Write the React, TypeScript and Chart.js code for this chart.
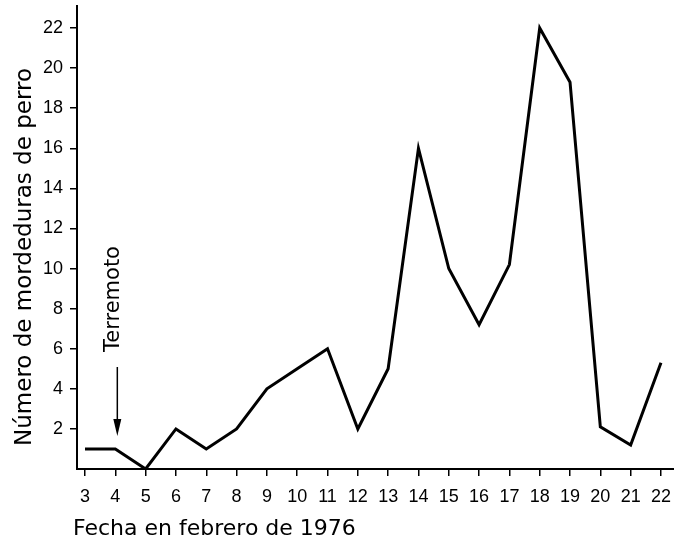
import React, { useEffect, useRef } from "react";
import { Chart, registerables } from "chart.js";

Chart.register(...registerables);

const days = [3, 4, 5, 6, 7, 8, 9, 10, 11, 12, 13, 14, 15, 16, 17, 18, 19, 20, 21, 22];
const bites = [1, 1, 0, 2, 1, 2, 4, 5, 6, 2, 5, 16, 10, 7.2, 10.2, 22, 19.3, 2.1, 1.2, 5.3];
const yTickValues = [2, 4, 6, 8, 10, 12, 14, 16, 18, 20, 22];
const yTitle = "Número de mordeduras de perro";
const xTitle = "Fecha en febrero de 1976";
const eventLabel = "Terremoto";
const eventDay = 4;
const eventValue = 1;

const TITLE_FONT = '"DejaVu Sans", sans-serif';
const TICK_FONT = '"Liberation Sans", Arial, sans-serif';

const annotations = {
  id: "annotations",
  afterDraw(chart: any) {
    const ctx = chart.ctx;
    const xs = chart.scales.x;
    const ys = chart.scales.y;
    ctx.save();
    ctx.fillStyle = "#000";
    ctx.strokeStyle = "#000";

    // y title
    ctx.save();
    ctx.translate(25, 257);
    ctx.rotate(-Math.PI / 2);
    ctx.font = `23px ${TITLE_FONT}`;
    ctx.textAlign = "center";
    ctx.textBaseline = "middle";
    ctx.fillText(yTitle, 0, 0);
    ctx.restore();

    // x title
    ctx.font = `22px ${TITLE_FONT}`;
    ctx.textAlign = "left";
    ctx.textBaseline = "middle";
    ctx.fillText(xTitle, 73, 529);

    // event annotation
    const ax = xs.getPixelForValue(eventDay) + 2;
    const tipY = ys.getPixelForValue(eventValue) - 13;
    ctx.save();
    ctx.translate(ax - 4, 299);
    ctx.rotate(-Math.PI / 2);
    ctx.font = `21px ${TITLE_FONT}`;
    ctx.textAlign = "center";
    ctx.textBaseline = "middle";
    ctx.fillText(eventLabel, 0, 0);
    ctx.restore();

    ctx.lineWidth = 1.5;
    ctx.beginPath();
    ctx.moveTo(ax, 367);
    ctx.lineTo(ax, tipY - 14);
    ctx.stroke();
    ctx.beginPath();
    ctx.moveTo(ax - 4, tipY - 17);
    ctx.lineTo(ax + 4, tipY - 17);
    ctx.lineTo(ax, tipY);
    ctx.closePath();
    ctx.fill();
    ctx.restore();
  },
};

export default function App() {
  const ref = useRef<HTMLCanvasElement>(null);
  useEffect(() => {
    if (!ref.current) return;
    const chart = new Chart(ref.current, {
      type: "line",
      data: {
        datasets: [
          {
            data: days.map((d, i) => ({ x: d, y: bites[i] })),
            borderColor: "#000",
            borderWidth: 3,
            pointRadius: 0,
            tension: 0,
            fill: false,
          },
        ],
      },
      options: {
        animation: false,
        responsive: false,
        maintainAspectRatio: false,
        layout: { padding: { top: 6, left: 0, right: 0, bottom: 0 } },
        plugins: { legend: { display: false }, tooltip: { enabled: false } },
        scales: {
          x: {
            type: "linear",
            min: 2.736,
            max: 22.43,
            afterBuildTicks: (s: any) => {
              s.ticks = days.map((v) => ({ value: v }));
            },
            afterFit: (s: any) => {
              s.height = 74;
              s.paddingLeft = 0;
              s.paddingRight = 0;
            },
            grid: {
              drawOnChartArea: false,
              drawTicks: true,
              tickLength: 7,
              color: "#000",
              lineWidth: 1.5,
            },
            border: { display: true, color: "#000", width: 2 },
            ticks: {
              color: "#000",
              font: { family: TICK_FONT, size: 18 },
              padding: 10,
              maxRotation: 0,
              autoSkip: false,
              callback: (v: any) => String(v),
            },
          },
          y: {
            type: "linear",
            min: 0,
            max: 23.1,
            afterBuildTicks: (s: any) => {
              s.ticks = yTickValues.map((v) => ({ value: v }));
            },
            afterFit: (s: any) => {
              s.width = 77;
              s.paddingTop = 0;
              s.paddingBottom = 0;
            },
            grid: {
              drawOnChartArea: false,
              drawTicks: true,
              tickLength: 7,
              color: "#000",
              lineWidth: 1.5,
            },
            border: { display: true, color: "#000", width: 2 },
            ticks: {
              color: "#000",
              font: { family: TICK_FONT, size: 18 },
              padding: 7,
              callback: (v: any) => String(v),
            },
          },
        },
      },
      plugins: [annotations],
    });
    return () => chart.destroy();
  }, []);
  return (
    <div style={{ position: "fixed", left: 0, top: 0, width: 674, height: 543, background: "#fff" }}>
      <canvas ref={ref} width={674} height={543} style={{ width: 674, height: 543, display: "block" }} />
    </div>
  );
}
